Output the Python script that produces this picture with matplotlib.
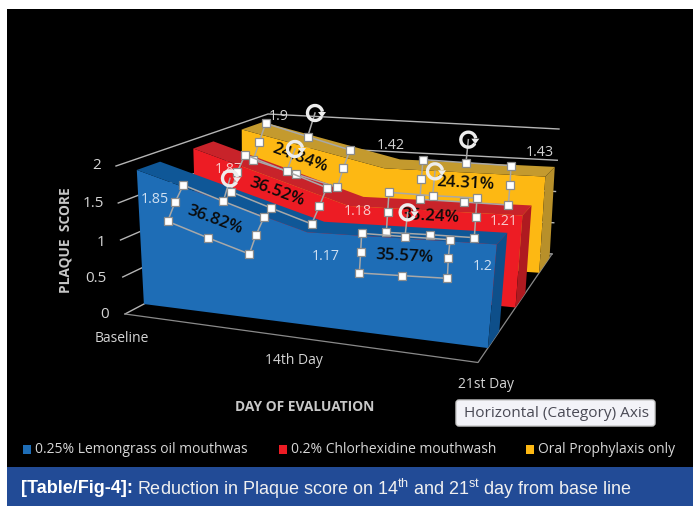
import numpy as np
import matplotlib
matplotlib.use("Agg")
import matplotlib.pyplot as plt
from matplotlib.patches import Polygon, Rectangle, Arc, FancyBboxPatch

categories = ["Baseline", "14th Day", "21st Day"]
series_names = ["0.25% Lemongrass oil mouthwas", "0.2% Chlorhexidine mouthwash", "Oral Prophylaxis only"]
lemongrass = [1.85, 1.17, 1.20]
chlorhexidine = [1.87, 1.18, 1.21]
prophylaxis = [1.90, 1.42, 1.43]
y_ticks = [0, 0.5, 1, 1.5, 2]
reductions_14 = ["36.82%", "36.52%", "24.84%"]
reductions_21 = ["35.57%", "35.24%", "24.31%"]

plt.rcParams['font.family'] = ['Open Sans', 'DejaVu Sans']
plt.rcParams['mathtext.default'] = 'regular'
fig = plt.figure(figsize=(6.93, 5.10), dpi=100, facecolor='white')
ax = fig.add_axes([0, 0, 1, 1])
ax.set_xlim(0, 693); ax.set_ylim(510, 0); ax.axis('off')

ax.add_patch(Rectangle((7, 10), 686, 458, fc='black', ec='none', zorder=0))
ax.add_patch(Rectangle((7, 468), 686, 39, fc='#224B96', ec='none', zorder=0))

# chart box corners in pixels: floor and top (value 2), front-left, back-left, back-right, front-right
F = np.array([[125, 315], [267, 240], [552, 255], [478, 363.5]], float)
T = np.array([[116, 167], [268, 115], [559, 130], [494, 183.5]], float)
CAT_POS = [0, 0.47, 1]

def project(x, t, v):
    def bil(P):
        return (1-x)*((1-t)*P[0]+t*P[1]) + x*((1-t)*P[3]+t*P[2])
    return bil(F) + (v/2.0)*(bil(T)-bil(F))

GRID = '#B5B5B5'
for v in y_ticks:
    a, b, c = project(0, 0, v), project(0, 1, v), project(1, 1, v)
    ax.plot([a[0], b[0], c[0]], [a[1], b[1], c[1]], color=GRID, lw=1, zorder=1)
flo = [project(0, 0, 0), project(1, 0, 0), project(1, 1, 0)]
ax.plot(*zip(*flo), color='#8A8A8A', lw=0.9, zorder=1)

def area(values, t0, t1, front, top, side, z):
    xs = CAT_POS
    fr = [project(x, t0, v) for x, v in zip(xs, values)]
    bk = [project(x, t1, v) for x, v in zip(xs, values)]
    ax.add_patch(Polygon(fr + [project(1, t0, 0), project(0, t0, 0)], fc=front, ec='none', zorder=z))
    ax.add_patch(Polygon(fr + bk[::-1], fc=top, ec='none', zorder=z))
    ax.add_patch(Polygon([fr[-1], bk[-1], project(1, t1, 0), project(1, t0, 0)], fc=side, ec='none', zorder=z))

area(prophylaxis, 0.827, 0.967, '#FDB813', '#C49A2E', '#B8902A', 2)
area(chlorhexidine, 0.507, 0.64, '#ED1C24', '#C8232A', '#AF1A20', 3)
area(lemongrass, 0.133, 0.287, '#1E6DB6', '#0F5797', '#0E4F8A', 4)

LAB = '#D4D4D4'
def txt(x, y, s, size=9.4, color=LAB, **k):
    k.setdefault('ha', 'center'); k.setdefault('va', 'center')
    return ax.text(x, y, s, fontsize=size, color=color, zorder=k.pop('zorder', 9), **k)

for s, (x, y) in zip(y_ticks, [(105, 315), (96, 279), (101, 243), (93, 204), (97, 166)]):
    txt(x, y, f"{s:g}", size=11)
for s, (x, y) in zip(categories, [(122, 339), (294, 361), (486, 385)]):
    txt(x, y, s, size=10)
txt(65, 240, "PLAQUE  SCORE", size=9.9, rotation=90, fontweight='bold', color='#C8C8C8')
txt(305, 407, "DAY OF EVALUATION", size=9.9, fontweight='bold', color='#C8C8C8')

# data labels
pos_lab = {0: [(155, 200), (326, 256), (483, 267)],
           1: [(229, 170), (358, 212), (504, 222)],
           2: [(279, 116), (391, 146), (540, 153)]}
for i, vals in enumerate([lemongrass, chlorhexidine, prophylaxis]):
    for v, (x, y) in zip(vals, pos_lab[i]):
        col = '#CFE0F2' if i == 0 else ('#F8C9C9' if i == 1 else LAB)
        txt(x, y, f"{v:g}", size=10.3, color=col, zorder=6)

# rotated text boxes (corners clockwise from top-left, pixels) and their rotation handle
def z1(p): return (90 + p[0]/3, 90 + p[1]/3)
def z2(p): return (340 + p[0]/3, 110 + p[1]/3)
boxes = [
    ([z1(p) for p in [(280,288),(400,337),(522,385),(498,438),(478,495),(355,447),(233,397),(255,340)]], z1((420,268))),
    ([z1(p) for p in [(465,197),(590,247),(710,296),(688,352),(665,405),(543,357),(422,308),(442,250)]], z1((615,180))),
    ([z1(p) for p in [(527,103),(653,143),(780,183),(760,237),(742,295),(617,255),(490,213),(507,160)]], z1((675,72))),
    ([z2(p) for p in [(65,373),(195,383),(330,392),(325,447),(322,508),(187,500),(58,492),(62,430)]], z2((203,310))),
    ([z2(p) for p in [(147,250),(278,260),(411,267),(407,325),(403,386),(269,377),(139,370),(143,308)]], z2((285,187))),
    ([z2(p) for p in [(249,152),(378,161),(513,170),(510,227),(505,288),(371,279),(240,271),(244,211)]], z2((385,92))),
]
labels = list(zip(reductions_14, [(215, 220), (277, 192), (300, 158)], [-20, -20, -20])) + \
         list(zip(reductions_21, [(404, 257), (430, 217), (465, 184)], [-3, -3, -3]))
draw_order = [2, 5, 1, 4, 0, 3]
for n, i in enumerate(draw_order):
    pts, rot = boxes[i]
    s, c, r = labels[i]
    z = 10 + n
    txt(c[0], c[1], s, size=12.2, color='#0A0A0A', rotation=r, fontweight='semibold',
        rotation_mode='anchor', zorder=z)
    ax.add_patch(Polygon(pts, fc='none', ec='#A8A8A8', lw=1.1, zorder=z))
    ax.plot([pts[1][0], rot[0]], [pts[1][1], rot[1]], color='#A8A8A8', lw=1.1, zorder=z)
    for p in pts:
        ax.add_patch(Rectangle((p[0]-4, p[1]-4), 8, 8, fc='white', ec='#8C8C8C', lw=0.9, zorder=z+0.1))
    ax.add_patch(Arc(rot, 15, 15, theta1=30, theta2=350, ec='#EDEDED', lw=2.4, zorder=z+0.2))
    ax.add_patch(Polygon([(rot[0]+3, rot[1]-1), (rot[0]+11, rot[1]-1), (rot[0]+7, rot[1]+4.5)],
                         fc='#EDEDED', ec='none', zorder=z+0.2))

# tooltip
ax.add_patch(FancyBboxPatch((456, 401), 199, 26, boxstyle="round,pad=0,rounding_size=3",
                            fc='#F3F3F8', ec='#C9C9C9', lw=1, zorder=30))
txt(557, 414, "Horizontal (Category) Axis", size=11.1, color='#4A4A55', zorder=31)

# legend
for name, col, xs, xt in zip(series_names, ['#1E6DB6', '#ED1C24', '#FDB813'], [23, 279, 526], [35, 291, 538]):
    ax.add_patch(Rectangle((xs, 446), 8, 9, fc=col, ec='none', zorder=8))
    txt(xt, 450, name, size=10, ha='left', color='#D6D6D6')

# caption
ax.text(21, 489, "[Table/Fig-4]:", fontsize=13, fontweight='bold', color='white',
        family='Liberation Sans', va='center', ha='left', zorder=9)
ax.text(137, 489, r"Reduction in Plaque score on 14$^{th}$ and 21$^{st}$ day from base line",
        fontsize=13, color='#F0F0F0', family='Liberation Sans', va='center', ha='left', zorder=9)

fig.savefig("out.png", dpi=100, facecolor='white')
